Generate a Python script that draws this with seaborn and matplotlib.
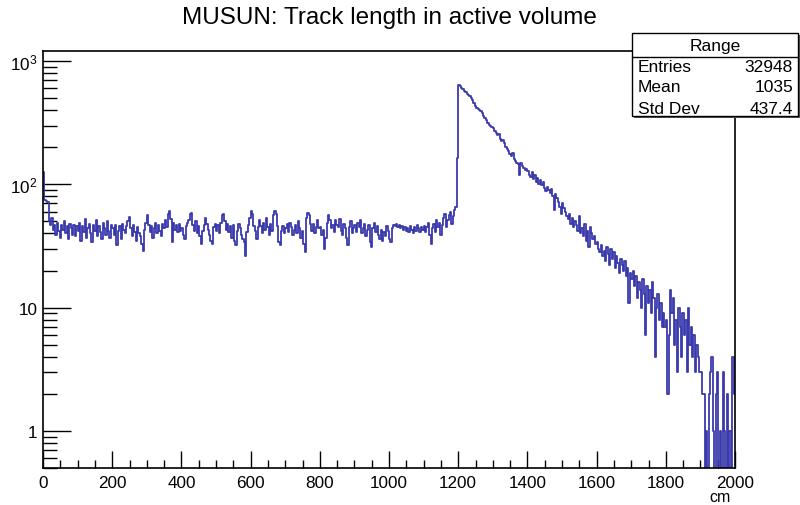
import numpy as np
import pandas as pd
import matplotlib
matplotlib.use("Agg")
import matplotlib.pyplot as plt
from matplotlib.patches import Rectangle
from matplotlib.lines import Line2D
from matplotlib.ticker import FixedLocator, NullFormatter
import seaborn as sns

# ---- data (counts per 4 cm bin) ----
x_min, x_max, n_bins = 0, 2000, 500
seg_000 = [125, 74, 73, 72, 50, 47, 53, 43, 47, 39, 49, 42, 37, 47, 43, 50, 40, 46, 36, 48, 44, 39, 47, 38, 46]
seg_100 = [42, 49, 35, 46, 41, 52, 37, 44, 48, 40, 34, 47, 42, 51, 38, 46, 41, 36, 49, 44, 39, 50, 42, 37, 47]
seg_200 = [44, 39, 47, 32, 42, 46, 36, 48, 43, 40, 46, 50, 54, 44, 38, 47, 41, 35, 45, 40, 38, 33, 29, 43, 49]
seg_300 = [56, 47, 41, 46, 37, 44, 49, 40, 47, 42, 38, 48, 44, 51, 45, 58, 61, 52, 34, 49, 43, 47, 41, 48, 42]
seg_400 = [44, 39, 36, 46, 49, 51, 57, 59, 47, 42, 50, 40, 46, 38, 33, 42, 47, 53, 48, 43, 39, 35, 33, 45, 48]
seg_500 = [42, 47, 40, 49, 56, 58, 50, 43, 48, 41, 46, 37, 47, 35, 32, 42, 48, 44, 39, 36, 34, 26, 41, 47, 53]
seg_600 = [61, 58, 46, 42, 36, 45, 51, 46, 40, 49, 43, 53, 45, 39, 48, 42, 56, 61, 57, 46, 34, 32, 42, 46, 40]
seg_700 = [44, 48, 41, 49, 45, 39, 43, 47, 40, 50, 44, 37, 42, 33, 28, 53, 59, 56, 48, 42, 48, 40, 45, 51, 44]
seg_800 = [45, 39, 43, 30, 37, 49, 56, 51, 44, 47, 41, 51, 47, 45, 52, 42, 39, 48, 44, 37, 32, 45, 50, 40, 44]
seg_900 = [47, 41, 49, 45, 51, 40, 44, 48, 38, 43, 47, 34, 31, 44, 49, 41, 46, 39, 36, 43, 35, 41, 38, 46, 42]
seg_1000 = [36, 34, 44, 47, 46, 48, 45, 47, 44, 46, 43, 45, 42, 44, 41, 46, 43, 40, 45, 42, 47, 44, 41, 45, 43]
seg_1100 = [46, 41, 45, 49, 39, 33, 44, 48, 41, 51, 45, 49, 39, 47, 53, 58, 45, 51, 56, 60, 48, 55, 62, 65, 163]
seg_1200 = [635, 625, 610, 590, 575, 560, 545, 530, 520, 500, 480, 460, 430, 420, 410, 400, 390, 380, 360, 345, 330, 315, 305, 300, 290]
seg_1300 = [285, 270, 260, 250, 255, 235, 225, 230, 215, 200, 195, 185, 175, 170, 178, 160, 155, 150, 145, 120, 148, 140, 135, 130, 132]
seg_1400 = [128, 120, 115, 125, 110, 118, 105, 112, 100, 108, 98, 104, 94, 88, 96, 90, 85, 92, 80, 62, 84, 78, 72, 66, 58]
seg_1500 = [70, 64, 60, 55, 52, 58, 48, 53, 45, 50, 47, 42, 55, 40, 44, 38, 48, 35, 42, 31, 45, 40, 36, 38, 33]
seg_1600 = [34, 30, 28, 32, 26, 29, 24, 31, 27, 22, 30, 25, 28, 21, 26, 23, 19, 25, 22, 20, 24, 18, 21, 11, 19]
seg_1700 = [17, 20, 15, 18, 12, 16, 14, 10, 17, 13, 6, 15, 11, 14, 9, 16, 12, 4, 10, 13, 8, 11, 7, 9, 7]
seg_1800 = [8, 2, 6, 14, 9, 12, 5, 8, 3, 10, 7, 4, 9, 6, 8, 3, 10, 5, 7, 4, 6, 3, 5, 4, 3]
seg_1900 = [3, 2, 2, 0, 1, 0, 2, 3, 4, 1, 0, 2, 3, 0, 1, 0, 3, 1, 0, 2, 0, 1, 0, 4, 2]

x_ticks = [0, 200, 400, 600, 800, 1000, 1200, 1400, 1600, 1800, 2000]
y_ticks = [1, 10, 100, 1000]
y_tick_labels = ["1", "10", "$10^{2}$", "$10^{3}$"]
stats_title = "Range"
stats_names = ["Entries", "Mean", "Std Dev"]
stats_values = ["32948", "1035", "437.4"]

counts = np.array(seg_000 + seg_100 + seg_200 + seg_300 + seg_400 + seg_500 + seg_600 +
                  seg_700 + seg_800 + seg_900 + seg_1000 + seg_1100 + seg_1200 + seg_1300 +
                  seg_1400 + seg_1500 + seg_1600 + seg_1700 + seg_1800 + seg_1900, dtype=float)
width = (x_max - x_min) / n_bins
centers = x_min + width * (np.arange(n_bins) + 0.5)
plot_counts = np.where(counts > 0, counts, 1e-3)
df = pd.DataFrame({"length": centers, "w": plot_counts})

# ---- figure ----
sns.set_style("white")
plt.rcParams["font.family"] = ["Liberation Sans", "DejaVu Sans"]
plt.rcParams["mathtext.fontset"] = "custom"
plt.rcParams["mathtext.rm"] = "Liberation Sans"
plt.rcParams["mathtext.it"] = "Liberation Sans"
plt.rcParams["text.color"] = "black"
plt.rcParams["xtick.color"] = "black"
plt.rcParams["ytick.color"] = "black"

W, H = 800, 506
fig = plt.figure(figsize=(8.0, 5.06), dpi=100)
L, R, T, B = 43, 735, 52, 469
ax = fig.add_axes([L / W, 1 - B / H, (R - L) / W, (B - T) / H])

line_color = "#3a3aad"
sns.histplot(data=df, x="length", weights="w", bins=n_bins, binrange=(x_min, x_max),
             element="step", fill=False, color=line_color, linewidth=1.3, ax=ax)
ax.set_yscale("log")
ax.set_xlim(x_min, x_max)
ax.set_ylim(0.5, 1207)

for s in ax.spines.values():
    s.set_color("black")
    s.set_linewidth(1.2)

tick_fs = 12.3
ax.set_xticks(x_ticks)
ax.set_xticklabels([str(v) for v in x_ticks], fontsize=tick_fs, color="black")
ax.xaxis.set_minor_locator(FixedLocator(np.arange(0, 2001, 50)))
ax.tick_params(axis="x", which="major", direction="in", length=12, width=1, bottom=True, top=False, pad=5)
ax.tick_params(axis="x", which="minor", direction="in", length=6, width=1, bottom=True, top=False)

ax.yaxis.set_major_locator(FixedLocator(y_ticks))
ax.set_yticklabels(y_tick_labels, fontsize=tick_fs, color="black")
minor_y = [m * 10.0 ** e for e in range(-1, 4) for m in range(2, 10) if 0.5 <= m * 10.0 ** e <= 1207]
ax.yaxis.set_minor_locator(FixedLocator(minor_y))
ax.yaxis.set_minor_formatter(NullFormatter())
ax.tick_params(axis="y", which="major", direction="in", length=20, width=1, left=True, right=False, pad=4)
ax.tick_params(axis="y", which="minor", direction="in", length=10, width=1, left=True, right=False)

ax.set_xlabel("")
ax.set_ylabel("")

fig.text(389 / W, 1 - 18 / H, "MUSUN: Track length in active volume", ha="center", va="center",
         fontsize=17.5, color="black")
fig.text(720 / W, 1 - 498 / H, "cm", ha="center", va="center", fontsize=11.5, color="black")

# stats box
stats_fs = 12.5
bx0, bx1, by0, by1 = 632, 798, 34, 117
fig.add_artist(Rectangle((bx0 / W + 0.002, 1 - (by1 + 2) / H), (bx1 - bx0) / W, (by1 - by0) / H,
                         transform=fig.transFigure, facecolor="#555555", edgecolor="none", zorder=9))
fig.add_artist(Rectangle((bx0 / W, 1 - by1 / H), (bx1 - bx0) / W, (by1 - by0) / H,
                         transform=fig.transFigure, facecolor="white", edgecolor="black",
                         linewidth=1.0, zorder=10))
fig.add_artist(Line2D([bx0 / W, bx1 / W], [1 - 58 / H, 1 - 58 / H], transform=fig.transFigure,
                      color="black", linewidth=1.0, zorder=11))
fig.text((bx0 + bx1) / 2 / W, 1 - 46 / H, stats_title, ha="center", va="center", fontsize=stats_fs,
         color="black", zorder=12)
for i, (nm, val) in enumerate(zip(stats_names, stats_values)):
    yy = 1 - (67 + 21 * i) / H
    fig.text(638 / W, yy, nm, ha="left", va="center", fontsize=stats_fs, color="black", zorder=12)
    fig.text(793 / W, yy, val, ha="right", va="center", fontsize=stats_fs, color="black", zorder=12)

fig.savefig("out.png", dpi=100)
